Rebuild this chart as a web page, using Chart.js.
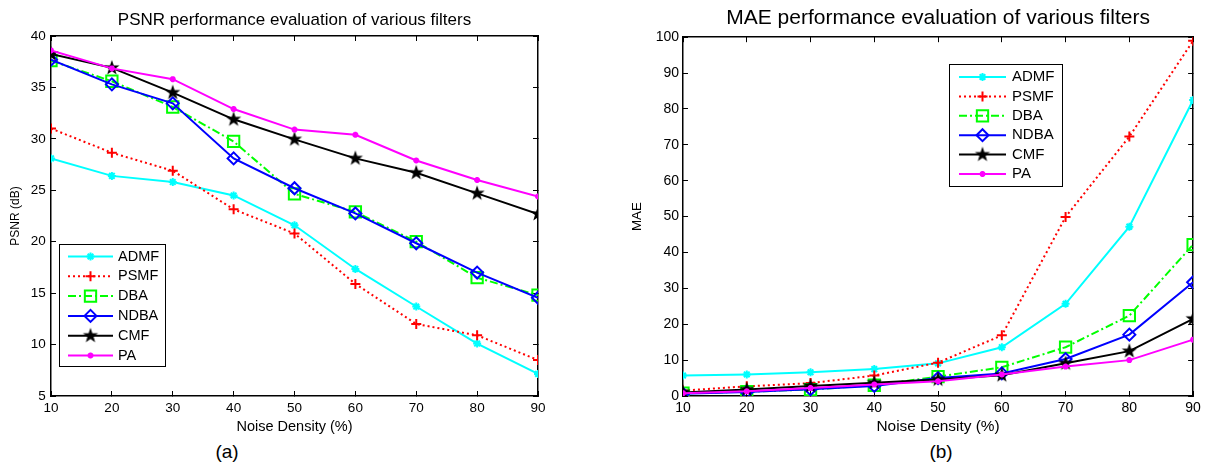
<!DOCTYPE html>
<html lang="en">
<head>
    <meta charset="UTF-8">
    <title>PSNR / MAE performance evaluation of various filters</title>
    <script src="https://cdn.jsdelivr.net/npm/chart.js"></script>
    <style>
        body { margin: 0; background: #fff; }
        .page { position: relative; width: 1210px; height: 474px; overflow: hidden; font-family: "Liberation Sans", Arial, sans-serif; }
        canvas { position: absolute; top: 0; }
        #psnrChart { left: 0; }
        #maeChart { left: 605px; }
        .caption { position: absolute; top: 441px; font-size: 19px; line-height: 22px; transform: translateX(-50%); color: #000; }
    </style>
</head>
<body>
<div class="page">
    <canvas id="psnrChart" width="560" height="440"></canvas>
    <canvas id="maeChart" width="605" height="440"></canvas>
    <div class="caption" style="left:227px">(a)</div>
    <div class="caption" style="left:941px">(b)</div>
</div>

<script>
// valores
const noiseDensity = [10, 20, 30, 40, 50, 60, 70, 80, 90];
const filterNames = ['ADMF', 'PSMF', 'DBA', 'NDBA', 'CMF', 'PA'];

const psnrADMF = [28.1, 26.4, 25.8, 24.5, 21.6, 17.35, 13.7, 10.1, 7.15];
const psnrPSMF = [31.0, 28.65, 26.9, 23.15, 20.8, 15.9, 12.0, 10.9, 8.5];
const psnrDBA  = [37.6, 35.6, 33.1, 29.75, 24.65, 22.9, 20.0, 16.5, 14.8];
const psnrNDBA = [37.7, 35.3, 33.45, 28.1, 25.2, 22.75, 19.85, 17.0, 14.55];
const psnrCMF  = [38.25, 36.9, 34.5, 31.9, 29.95, 28.1, 26.7, 24.7, 22.7];
const psnrPA   = [38.6, 36.85, 35.8, 32.9, 30.9, 30.4, 27.9, 26.0, 24.4];

const maeADMF = [5.7, 6.0, 6.6, 7.5, 9.1, 13.6, 25.7, 47.2, 82.5];
const maePSMF = [1.5, 2.7, 3.6, 5.7, 9.3, 16.9, 49.9, 72.3, 99.0];
const maeDBA  = [0.8, 1.2, 1.8, 3.0, 5.4, 8.0, 13.6, 22.4, 42.2];
const maeNDBA = [0.6, 1.1, 1.9, 2.8, 5.0, 6.3, 10.3, 17.1, 31.7];
const maeCMF  = [1.0, 1.8, 2.8, 3.7, 4.6, 5.8, 9.1, 12.5, 21.5];
const maePA   = [0.8, 1.3, 2.2, 3.2, 4.1, 6.0, 8.2, 10.0, 15.7];

const psnrTicks = { min: 5, max: 40, step: 5 };
const maeTicks = { min: 0, max: 100, step: 10 };

const FONT = '"Liberation Sans", Arial, sans-serif';

// estrella de cinco puntas (marcador 'p' de MATLAB)
function makePentagram(r, color) {
    const c = document.createElement('canvas');
    c.width = c.height = Math.ceil(2 * r + 2);
    const g = c.getContext('2d');
    const cx = c.width / 2;
    g.beginPath();
    for (let k = 0; k < 10; k++) {
        const rr = k % 2 ? r * 0.4 : r;
        const ang = -Math.PI / 2 + k * Math.PI / 5;
        g.lineTo(cx + rr * Math.cos(ang), cx + rr * Math.sin(ang));
    }
    g.closePath();
    g.fillStyle = color;
    g.fill();
    return c;
}
const pentagram = makePentagram(8, '#000');

const seriesStyles = [
    { color: '#00ffff', dash: [],           pointStyle: 'star',    radius: 4, fill: '#00ffff' },
    { color: '#ff0000', dash: [2, 3],       pointStyle: 'cross',   radius: 5, fill: '#ff0000' },
    { color: '#00ff00', dash: [8, 3, 2, 3], pointStyle: 'rect',    radius: 8, fill: 'rgba(0,0,0,0)' },
    { color: '#0000ff', dash: [],           pointStyle: 'rectRot', radius: 6, fill: 'rgba(0,0,0,0)' },
    { color: '#000000', dash: [],           pointStyle: pentagram, radius: 8, fill: '#000' },
    { color: '#ff00ff', dash: [],           pointStyle: 'star',    radius: 3, fill: '#ff00ff' }
];

function buildDatasets(seriesList) {
    return seriesList.map((values, i) => {
        const s = seriesStyles[i];
        return {
            label: filterNames[i],
            data: noiseDensity.map((x, k) => ({ x: x, y: values[k] })),
            borderColor: s.color,
            borderWidth: 2,
            borderDash: s.dash,
            pointStyle: s.pointStyle,
            pointRadius: s.radius,
            pointBorderWidth: 2,
            pointBorderColor: s.color,
            pointBackgroundColor: s.fill,
            tension: 0,
            fill: false,
            order: seriesList.length - i
        };
    });
}

// leyenda con recuadro dentro del área del gráfico
const boxLegend = {
    id: 'boxLegend',
    afterDraw(chart, args, opts) {
        const ctx = chart.ctx;
        const a = chart.chartArea;
        const x0 = Math.round(a.left + opts.dx), y0 = Math.round(a.top + opts.dy);
        ctx.save();
        ctx.fillStyle = '#fff';
        ctx.fillRect(x0, y0, opts.w, opts.h);
        ctx.strokeStyle = '#000';
        ctx.lineWidth = 1;
        ctx.strokeRect(x0 + 0.5, y0 + 0.5, opts.w, opts.h);
        ctx.font = opts.fontSize + 'px ' + FONT;
        ctx.textBaseline = 'middle';
        ctx.textAlign = 'left';
        chart.data.datasets.forEach((ds, i) => {
            const y = y0 + opts.first + i * opts.step;
            const lx = x0 + opts.lineX;
            ctx.beginPath();
            ctx.setLineDash(ds.borderDash);
            ctx.strokeStyle = ds.borderColor;
            ctx.lineWidth = ds.borderWidth;
            ctx.moveTo(lx, y);
            ctx.lineTo(lx + opts.lineLen, y);
            ctx.stroke();
            ctx.setLineDash([]);
            ctx.fillStyle = ds.pointBackgroundColor;
            ctx.strokeStyle = ds.pointBorderColor;
            ctx.lineWidth = ds.pointBorderWidth;
            if (Chart.helpers && Chart.helpers.drawPoint) {
                Chart.helpers.drawPoint(ctx, {
                    pointStyle: ds.pointStyle, radius: ds.pointRadius,
                    rotation: 0, borderWidth: ds.pointBorderWidth
                }, lx + opts.lineLen / 2, y);
            }
            ctx.fillStyle = '#000';
            ctx.fillText(ds.label, x0 + opts.textX, y);
        });
        ctx.restore();
    }
};

function buildScales(cfg) {
    const tickFont = { family: FONT, size: cfg.tickSize };
    const inward = { drawOnChartArea: false, drawTicks: true, tickLength: -5, color: '#000', lineWidth: 1 };
    const border = { display: true, color: '#000', width: 1.5 };
    return {
        x: {
            type: 'linear', position: 'bottom',
            min: 10, max: 90,
            ticks: { stepSize: 10, font: tickFont, color: '#000', padding: cfg.xTickPad, maxRotation: 0 },
            grid: inward, border: border,
            title: { display: true, text: 'Noise Density (%)', color: '#000',
                     font: { family: FONT, size: cfg.xTitleSize }, padding: { top: 0, bottom: cfg.xTitlePad } },
            afterFit: s => { s.height = 44; }
        },
        x2: {
            type: 'linear', position: 'top',
            min: 10, max: 90,
            ticks: { stepSize: 10, display: false },
            grid: inward, border: border,
            afterFit: s => { s.height = 0; }
        },
        y: {
            type: 'linear', position: 'left',
            min: cfg.y.min, max: cfg.y.max,
            ticks: { stepSize: cfg.y.step, font: tickFont, color: '#000', padding: cfg.yTickPad },
            grid: inward, border: border,
            title: { display: true, text: cfg.yTitle, color: '#000',
                     font: { family: FONT, size: cfg.yTitleSize }, padding: { top: cfg.yTitlePad, bottom: 0 } },
            afterFit: s => { s.width = cfg.yWidth; }
        },
        y2: {
            type: 'linear', position: 'right',
            min: cfg.y.min, max: cfg.y.max,
            ticks: { stepSize: cfg.y.step, display: false },
            grid: inward, border: border,
            afterFit: s => { s.width = 0; }
        }
    };
}

// Gráfica (a): PSNR
new Chart(document.getElementById('psnrChart').getContext('2d'), {
    type: 'line',
    data: { datasets: buildDatasets([psnrADMF, psnrPSMF, psnrDBA, psnrNDBA, psnrCMF, psnrPA]) },
    options: {
        responsive: false,
        animation: false,
        layout: { padding: { left: 0, right: 22, top: 0, bottom: 0 } },
        scales: buildScales({
            y: psnrTicks, yTitle: 'PSNR (dB)', yWidth: 51,
            tickSize: 13.5, xTickPad: 9, yTickPad: 10.3,
            xTitleSize: 14.5, xTitlePad: 4.6,
            yTitleSize: 12, yTitlePad: 8.5
        }),
        plugins: {
            legend: { display: false },
            tooltip: { enabled: false },
            title: {
                display: true, fullSize: false,
                text: 'PSNR performance evaluation of various filters',
                color: '#000', font: { family: FONT, size: 17, weight: 'normal' },
                padding: { top: 10, bottom: 5.6 }
            },
            boxLegend: { dx: 8, dy: 208, w: 106, h: 122, first: 12.5, step: 19.8,
                         lineX: 9, lineLen: 45, textX: 59, fontSize: 14.5 }
        }
    },
    plugins: [boxLegend]
});

// Gráfica (b): MAE
new Chart(document.getElementById('maeChart').getContext('2d'), {
    type: 'line',
    data: { datasets: buildDatasets([maeADMF, maePSMF, maeDBA, maeNDBA, maeCMF, maePA]) },
    options: {
        responsive: false,
        animation: false,
        layout: { padding: { left: 0, right: 12, top: 0, bottom: 0 } },
        scales: buildScales({
            y: maeTicks, yTitle: 'MAE', yWidth: 78,
            tickSize: 14, xTickPad: 9.1, yTickPad: 9,
            xTitleSize: 15.4, xTitlePad: 4,
            yTitleSize: 13.4, yTitlePad: 24.5
        }),
        plugins: {
            legend: { display: false },
            tooltip: { enabled: false },
            title: {
                display: true, fullSize: false,
                text: 'MAE performance evaluation of various filters',
                color: '#000', font: { family: FONT, size: 21, weight: 'normal' },
                padding: { top: 6, bottom: 6 }
            },
            boxLegend: { dx: 266, dy: 27, w: 113, h: 122, first: 13, step: 19.4,
                         lineX: 10, lineLen: 47, textX: 63, fontSize: 15 }
        }
    },
    plugins: [boxLegend]
});
</script>
</body>
</html>
